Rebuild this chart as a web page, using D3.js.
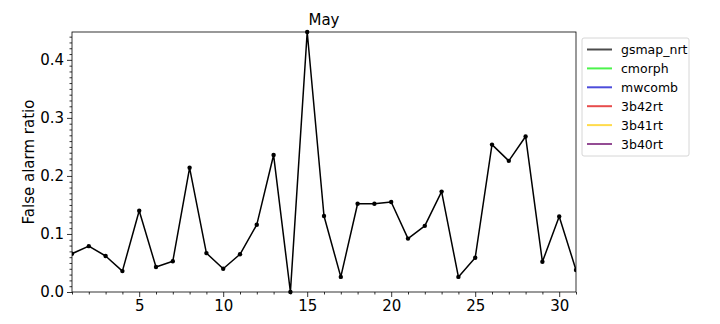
<html>
<head>
<meta charset="utf-8">
<title>May - False alarm ratio</title>
<style type="text/css">
* { margin: 0; padding: 0; }
body { background: #fff; font-family: "DejaVu Sans", sans-serif; }
svg text { font-family: "DejaVu Sans", sans-serif; fill: #000; }
</style>
<script src="https://cdn.jsdelivr.net/npm/d3@7"></script>
<script type="text/javascript">
// values
var days = d3.range(1, 32);
var gsmapNrt = [0.066, 0.079, 0.062, 0.036, 0.140, 0.043, 0.053, 0.214, 0.067, 0.040,
                0.065, 0.116, 0.236, 0.000, 0.448, 0.131, 0.026, 0.152, 0.152, 0.155,
                0.092, 0.114, 0.173, 0.026, 0.059, 0.254, 0.226, 0.268, 0.052, 0.130, 0.038];
var legendNames = ["gsmap_nrt", "cmorph", "mwcomb", "3b42rt", "3b41rt", "3b40rt"];
var legendColors = ["#000000", "#00ee00", "#0000cc", "#dd0000", "#ffcc00", "#660066"];
var xMajor = [5, 10, 15, 20, 25, 30];
var yMajor = [0, 0.1, 0.2, 0.3, 0.4];

window.onload = function() {
  var W = 720, H = 324;
  var L = 72, R = 576, T = 32, B = 292;

  var svg = d3.select("#chart").append("svg")
    .attr("width", W).attr("height", H);

  var x = d3.scaleLinear().domain([1, 31]).range([L, R]);
  var y = d3.scaleLinear().domain([0, d3.max(gsmapNrt)]).range([B, T]);

  // axes: major + minor ticks
  var xAxis = d3.axisBottom(x).tickValues(xMajor).tickSize(5).tickPadding(3).tickFormat(d3.format("d"));
  var xMinor = d3.axisBottom(x).tickValues(days.filter(function(d) { return xMajor.indexOf(d) == -1; }))
    .tickSize(2.5).tickFormat("");
  var yAxis = d3.axisLeft(y).tickValues(yMajor).tickSize(5).tickPadding(3).tickFormat(d3.format(".1f"));
  var yMinor = d3.axisLeft(y).tickValues(d3.range(1, 45).map(function(i) { return i / 100; })
    .filter(function(v) { return Math.round(v * 100) % 10 != 0; })).tickSize(2.5).tickFormat("");

  function styleAxis(g) {
    g.select(".domain").remove();
    g.selectAll("line").attr("stroke", "#000").attr("stroke-width", 0.8);
    g.selectAll("text").attr("font-size", 15).attr("font-family", "DejaVu Sans");
  }

  svg.append("g").attr("transform", "translate(0," + B + ")").call(xAxis).call(styleAxis);
  svg.append("g").attr("transform", "translate(0," + B + ")").call(xMinor).call(styleAxis);
  svg.append("g").attr("transform", "translate(" + L + ",0)").call(yAxis).call(styleAxis);
  svg.append("g").attr("transform", "translate(" + L + ",0)").call(yMinor).call(styleAxis);

  // the line
  var line = d3.line().x(function(d, i) { return x(days[i]); }).y(function(d) { return y(d); });
  var clip = svg.append("clipPath").attr("id", "clip").append("rect")
    .attr("x", L).attr("y", T - 3).attr("width", R - L).attr("height", B - T + 6);
  svg.append("path").datum(gsmapNrt)
    .attr("fill", "none").attr("stroke", "#000").attr("stroke-width", 1.5)
    .attr("stroke-linejoin", "round")
    .attr("clip-path", "url(#clip)")
    .attr("d", line);
  svg.selectAll("circle.pt").data(gsmapNrt).enter().append("circle")
    .attr("class", "pt")
    .attr("clip-path", "url(#clip)")
    .attr("cx", function(d, i) { return x(days[i]); })
    .attr("cy", function(d) { return y(d); })
    .attr("r", 2.2).attr("fill", "#000");

  // frame
  svg.append("rect").attr("x", L).attr("y", T).attr("width", R - L).attr("height", B - T)
    .attr("fill", "none").attr("stroke", "#000").attr("stroke-width", 0.8);

  svg.append("text").attr("x", (L + R) / 2).attr("y", 25).attr("text-anchor", "middle")
    .attr("font-size", 15).text("May");

  svg.append("text").attr("transform", "translate(34," + ((T + B) / 2) + ") rotate(-90)")
    .attr("text-anchor", "middle").attr("font-size", 15).text("False alarm ratio");

  // legend
  var lg = svg.append("g").attr("transform", "translate(582,38)");
  lg.append("rect").attr("width", 107).attr("height", 118).attr("rx", 2)
    .attr("fill", "#fff").attr("stroke", "#ccc").attr("stroke-width", 0.8);
  var items = lg.selectAll("g.item").data(legendNames).enter().append("g")
    .attr("class", "item")
    .attr("transform", function(d, i) { return "translate(0," + (11.5 + i * 18.9) + ")"; });
  items.append("line").attr("x1", 5).attr("x2", 30).attr("y1", 0).attr("y2", 0)
    .attr("stroke", function(d, i) { return legendColors[i]; })
    .attr("stroke-opacity", 0.7).attr("stroke-width", 2);
  items.append("text").attr("x", 39).attr("y", 4.5).attr("font-size", 12.5)
    .text(function(d) { return d; });
};
</script>
</head>
<body>
<div id="chart"></div>
</body>
</html>
